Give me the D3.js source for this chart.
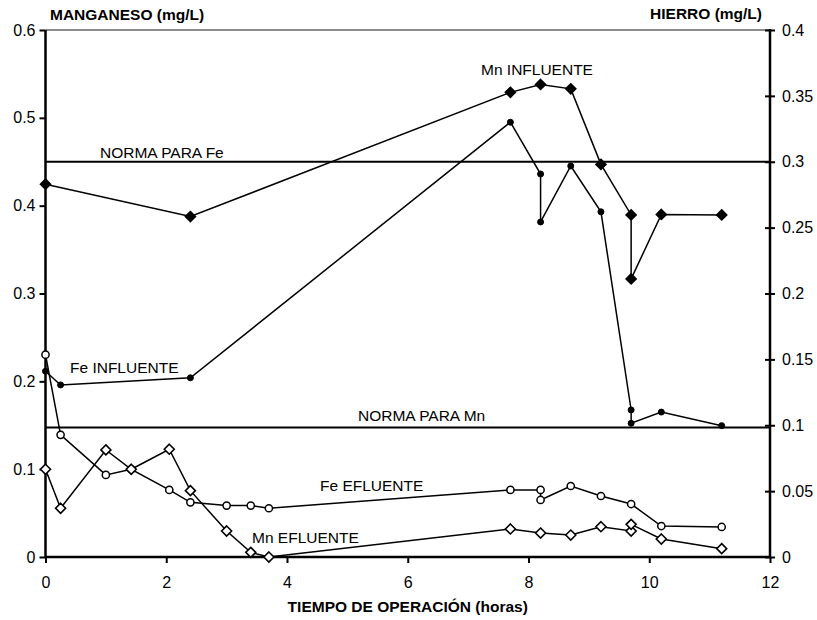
<!DOCTYPE html>
<html>
<head>
<meta charset="utf-8">
<script src="https://cdn.jsdelivr.net/npm/d3@7"></script>
<style>
  body { margin: 0; background: #fff; }
  svg text { font-family: "Liberation Sans", Arial, sans-serif; fill: #000; }
  .tick-label { font-size: 16px; }
  .note { font-size: 15.5px; }
  .axis-title { font-size: 15.5px; font-weight: bold; }
</style>
</head>
<body>
<svg id="chart"></svg>
<script>
// tiempo (horas) y concentraciones
const mnInfT = [0, 2.4, 7.7, 8.2, 8.7, 9.2, 9.7, 9.7, 10.2, 11.2];
const mnInfV = [0.4245, 0.3876, 0.529, 0.538, 0.533, 0.447, 0.3895, 0.3166, 0.390, 0.3895]; // eje izq.

const feInfT = [0, 0.25, 2.4, 7.7, 8.2, 8.2, 8.7, 9.2, 9.7, 9.7, 10.2, 11.2];
const feInfV = [0.141, 0.1306, 0.136, 0.330, 0.2907, 0.2543, 0.2968, 0.262, 0.1116, 0.1015, 0.110, 0.0997]; // eje der.

const mnEflT = [0, 0.25, 1, 1.42, 2.05, 2.4, 3, 3.4, 3.7, 7.7, 8.2, 8.7, 9.2, 9.7, 9.7, 10.2, 11.2];
const mnEflV = [0.0999, 0.0555, 0.1219, 0.0999, 0.1227, 0.0755, 0.0296, 0.0053, 0.0, 0.0319, 0.0273, 0.025, 0.0345, 0.0296, 0.0372, 0.0205, 0.0095]; // eje izq.

const feEflT = [0, 0.25, 1, 1.42, 2.05, 2.4, 3, 3.4, 3.7, 7.7, 8.2, 8.2, 8.7, 9.2, 9.7, 10.2, 11.2];
const feEflV = [0.1536, 0.0927, 0.0623, 0.0666, 0.0509, 0.0415, 0.039, 0.039, 0.037, 0.0509, 0.0509, 0.0433, 0.0539, 0.0463, 0.0402, 0.0235, 0.0228]; // eje der.

const normaFe = 0.3;     // eje der.
const normaMn = 0.1475;  // eje izq.

const xTicks = [0, 2, 4, 6, 8, 10, 12];
const yLeftTicks = [0, 0.1, 0.2, 0.3, 0.4, 0.5, 0.6];
const yRightTicks = [0, 0.05, 0.1, 0.15, 0.2, 0.25, 0.3, 0.35, 0.4];

const width = 817, height = 620;
const plotLeft = 45.5, plotRight = 770, plotTop = 30, plotBottom = 557;

const svg = d3.select("#chart")
  .attr("width", width)
  .attr("height", height)
  .attr("viewBox", [0, 0, width, height]);

const x = d3.scaleLinear().domain([0, 12]).range([plotLeft, plotRight]);
const yL = d3.scaleLinear().domain([0, 0.6]).range([plotBottom, plotTop]);
const yR = d3.scaleLinear().domain([0, 0.4]).range([plotBottom, plotTop]);

// borde superior gris
svg.append("line")
  .attr("x1", plotLeft).attr("x2", plotRight)
  .attr("y1", plotTop).attr("y2", plotTop)
  .attr("stroke", "#8c8c8c").attr("stroke-width", 2);

// lineas de norma
svg.append("line")
  .attr("x1", plotLeft).attr("x2", plotRight)
  .attr("y1", yR(normaFe)).attr("y2", yR(normaFe))
  .attr("stroke", "#000").attr("stroke-width", 2);
svg.append("line")
  .attr("x1", plotLeft).attr("x2", plotRight)
  .attr("y1", yL(normaMn)).attr("y2", yL(normaMn))
  .attr("stroke", "#000").attr("stroke-width", 2);

// ejes
const axisL = svg.append("g").attr("transform", `translate(${plotLeft},0)`)
  .call(d3.axisLeft(yL).tickValues(yLeftTicks).tickSize(6).tickFormat(d3.format("")));
const axisR = svg.append("g").attr("transform", `translate(${plotRight},0)`)
  .call(d3.axisRight(yR).tickValues(yRightTicks).tickSize(5).tickFormat(d3.format("")));
const axisB = svg.append("g").attr("transform", `translate(0,${plotBottom})`)
  .call(d3.axisBottom(x).tickValues(xTicks).tickSize(6).tickFormat(d3.format("d")));

[axisL, axisR, axisB].forEach(g => {
  g.select(".domain").remove();
  g.selectAll(".tick line").attr("stroke", "#000").attr("stroke-width", 2);
  g.selectAll(".tick text").attr("class", "tick-label");
  g.attr("font-family", null).attr("font-size", null);
});
// marcas del eje derecho cruzan el eje
axisR.selectAll(".tick line").attr("x1", -5);
axisL.selectAll(".tick text").attr("x", -10);
axisR.selectAll(".tick text").attr("x", 12);
axisB.selectAll(".tick text").attr("y", 20);

svg.append("line").attr("x1", plotLeft).attr("x2", plotLeft).attr("y1", plotTop).attr("y2", plotBottom + 1)
  .attr("stroke", "#000").attr("stroke-width", 2.5);
svg.append("line").attr("x1", plotRight).attr("x2", plotRight).attr("y1", plotTop - 1).attr("y2", plotBottom + 1)
  .attr("stroke", "#000").attr("stroke-width", 2.5);
svg.append("line").attr("x1", plotLeft).attr("x2", plotRight).attr("y1", plotBottom).attr("y2", plotBottom)
  .attr("stroke", "#000").attr("stroke-width", 2.5);

// series
function drawSeries(ts, vs, yScale, marker) {
  const pts = ts.map((t, i) => [x(t), yScale(vs[i])]);
  svg.append("path")
    .attr("d", d3.line()(pts))
    .attr("fill", "none")
    .attr("stroke", "#000")
    .attr("stroke-width", 1.5);
  const g = svg.append("g");
  pts.forEach(p => {
    if (marker === "diamondFilled" || marker === "diamondOpen") {
      const s = 5;
      g.append("path")
        .attr("d", `M${p[0]},${p[1] - s}L${p[0] + s},${p[1]}L${p[0]},${p[1] + s}L${p[0] - s},${p[1]}Z`)
        .attr("fill", marker === "diamondFilled" ? "#000" : "#fff")
        .attr("stroke", "#000").attr("stroke-width", 1.6);
    } else {
      const filled = marker === "circleFilled";
      g.append("circle")
        .attr("cx", p[0]).attr("cy", p[1])
        .attr("r", filled ? 3 : 3.6)
        .attr("fill", filled ? "#000" : "#fff")
        .attr("stroke", "#000").attr("stroke-width", filled ? 1 : 1.5);
    }
  });
}

drawSeries(mnInfT, mnInfV, yL, "diamondFilled");
drawSeries(feInfT, feInfV, yR, "circleFilled");
drawSeries(feEflT, feEflV, yR, "circleOpen");
drawSeries(mnEflT, mnEflV, yL, "diamondOpen");

// etiquetas
const notes = [
  { text: "NORMA PARA Fe", x: 100, y: 158 },
  { text: "Mn INFLUENTE", x: 481, y: 75 },
  { text: "Fe INFLUENTE", x: 70, y: 373 },
  { text: "NORMA PARA Mn", x: 358, y: 421 },
  { text: "Fe EFLUENTE", x: 320, y: 491 },
  { text: "Mn EFLUENTE", x: 252, y: 543 }
];
svg.selectAll("text.note")
  .data(notes)
  .join("text")
  .attr("class", "note")
  .attr("x", d => d.x)
  .attr("y", d => d.y)
  .text(d => d.text);

svg.append("text").attr("class", "axis-title")
  .attr("x", 50).attr("y", 20)
  .text("MANGANESO (mg/L)");
svg.append("text").attr("class", "axis-title")
  .attr("x", 762).attr("y", 19)
  .attr("text-anchor", "end")
  .text("HIERRO (mg/L)");
svg.append("text").attr("class", "axis-title")
  .attr("x", (plotLeft + plotRight) / 2).attr("y", 612)
  .attr("text-anchor", "middle")
  .text("TIEMPO DE OPERACIÓN (horas)");
</script>
</body>
</html>
